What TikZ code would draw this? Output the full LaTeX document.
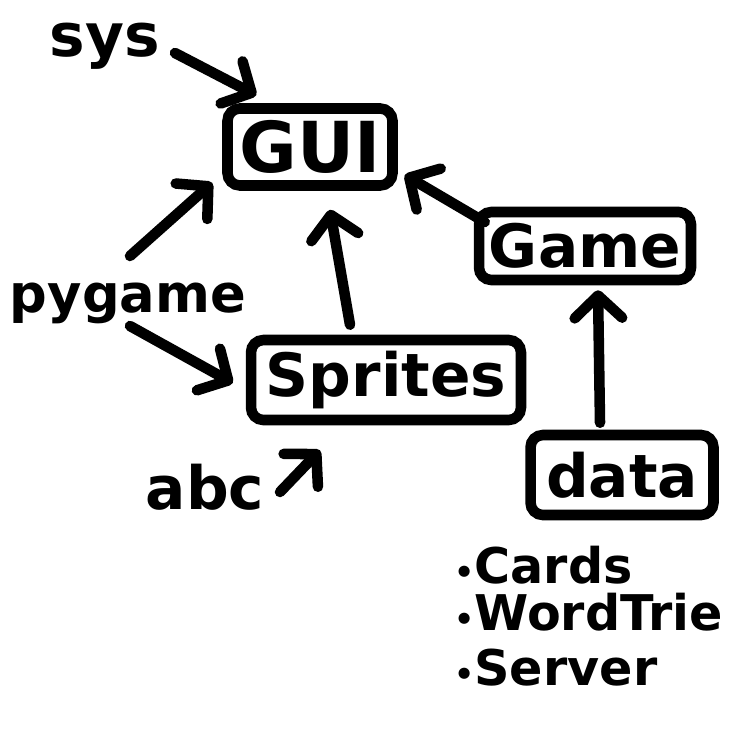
\documentclass[tikz,border=0pt]{standalone}
\usepackage{fontspec}
\setmainfont{DejaVu Sans}
\usetikzlibrary{arrows.meta,calc}
\newcommand\dotmark{{\fontsize{18}{18}\selectfont•}}
\tikzset{
  box/.style={draw,line width=6pt,rounded corners=7pt,inner sep=0pt,
    font=\fontsize{34}{40}\selectfont\bfseries},
  lbl/.style={inner sep=0pt,font=\fontsize{34}{40}\selectfont\bfseries},
  item/.style={anchor=west,inner sep=0pt,font=\fontsize{28}{32}\selectfont\bfseries},
  arr/.style={line width=6pt,line cap=round,
    -{Straight Barb[round,length=0.45cm,width=0.95cm]}}
}
\begin{document}
\begin{tikzpicture}[x=0.02cm,y=-0.02cm]
    \useasboundingbox (0,0) rectangle (750,750);
    %
    \node[box,minimum width=3.3cm,minimum height=1.54cm,
      font=\fontsize{40}{46}\selectfont\bfseries] (gui) at (310,147) {GUI};
    \node[box,minimum width=4.24cm,minimum height=1.36cm] (game) at (585,246) {Game};
    \node[box,minimum width=5.4cm,minimum height=1.6cm] (sprites) at (386,380) {Sprites};
    \node[box,minimum width=3.66cm,minimum height=1.6cm] (data) at (622,475) {data};
    %
    \node[lbl] (sys) at (105,46) {sys};
    \node[lbl,font=\fontsize{30}{36}\selectfont\bfseries] (pygame) at (128,303) {pygame};
    \node[lbl] (abc) at (205,487) {abc};
    \node[item] (cards) at (454,565) {\dotmark Cards};
    \node[item] (trie) at (454,612) {\dotmark WordTrie};
    \node[item] (server) at (454,668) {\dotmark Server};
    %
    \draw[arr] ($(sys)+(70,7)$) -- ($(gui.north west)+(34,-8)$);
    \draw[arr] ($(pygame)+(2,-47)$) -- ($(gui.south west)+(-10,-8)$);
    \draw[arr] ($(pygame)+(2,23)$) -- ($(sprites.west)+(-13,3)$);
    \draw[arr] ($(sprites.north)+(-36,-10)$) -- ($(gui.south)+(20,19)$);
    \draw[arr] ($(game.west)+(11,-24)$) -- ($(gui.east)+(7,28)$);
    \draw[arr] ($(data.north)+(-22,-7)$) -- ($(game.south)+(13,5)$);
    \draw[arr] ($(abc)+(75,5)$) -- ($(sprites.south)+(-66,25)$);
\end{tikzpicture}
\end{document}
